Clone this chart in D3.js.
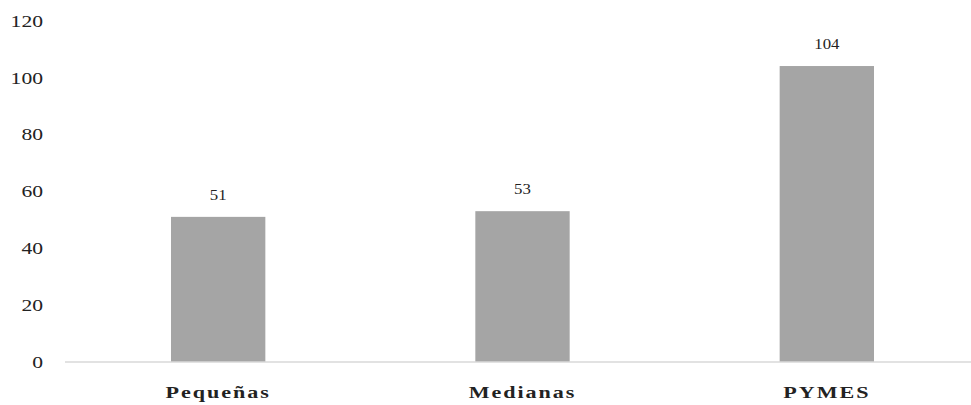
<!DOCTYPE html>
<html>
    <head>
        <meta charset="utf-8">
        <title>Empresas</title>
        <script src="https://d3js.org/d3.v7.min.js"></script>
        <style>
            body { margin: 0; background: #fff; }
            text { font-family: "Liberation Serif", "Times New Roman", serif; fill: #222; }
        </style>
    </head>
    <body>
        <div id="chart"></div>

        <script>
            // data
            var categories = ["Pequeñas", "Medianas", "PYMES"];
            var values = [51, 53, 104];
            var yTicks = [0, 20, 40, 60, 80, 100, 120];

            var W = 971, H = 405;

            var svg = d3.select("#chart")
              .append("svg")
                .attr("width", W)
                .attr("height", H);

            var x = d3.scaleBand()
                .domain(categories)
                .range([66, 979])
                .paddingInner(0.69)
                .paddingOuter(0.345);

            var y = d3.scaleLinear()
                .domain([0, 120])
                .range([362, 20.5]);

            // y axis labels, no line
            var yAxis = svg.append("g")
                .attr("transform", "translate(43,0)")
                .call(d3.axisLeft(y).tickValues(yTicks).tickSize(0).tickPadding(0));
            yAxis.select(".domain").remove();
            yAxis.selectAll("text")
                .attr("x", 0)
                .attr("dy", "0.35em")
                .attr("transform", "scale(1.35,1)")
                .style("font-size", "16px")
                .style("font-family", "Liberation Serif, serif")
                .attr("fill", "#222");

            // bars
            svg.append("g")
              .selectAll("rect")
              .data(values)
              .enter()
              .append("rect")
                .attr("x", function (d, i) { return x(categories[i]); })
                .attr("y", function (d) { return y(d); })
                .attr("width", x.bandwidth())
                .attr("height", function (d) { return y(0) - y(d); })
                .attr("fill", "#a5a5a5");

            // baseline
            svg.append("line")
                .attr("x1", 65).attr("x2", W)
                .attr("y1", y(0)).attr("y2", y(0))
                .attr("stroke", "#d9d9d9")
                .attr("stroke-width", 1.5);

            // value labels
            svg.append("g")
              .selectAll("text")
              .data(values)
              .enter()
              .append("text")
                .attr("transform", function (d, i) {
                    return "translate(" + (x(categories[i]) + x.bandwidth() / 2) + "," + (y(d) - 22) + ") scale(1.2,1)";
                })
                .attr("text-anchor", "middle")
                .attr("dy", "0.35em")
                .style("font-size", "14px")
                .text(function (d) { return d; });

            // category labels
            var xAxis = svg.append("g")
                .attr("transform", "translate(0," + y(0) + ")")
                .call(d3.axisBottom(x).tickSize(0).tickPadding(0));
            xAxis.select(".domain").remove();
            xAxis.selectAll("text")
                .attr("y", 0)
                .attr("dy", 0)
                .attr("transform", "translate(0,36) scale(1.3,1)")
                .style("font-size", "17px")
                .style("font-weight", "bold")
                .style("letter-spacing", "1.5px")
                .style("font-family", "Liberation Serif, serif")
                .attr("fill", "#111");
        </script>
    </body>
</html>
